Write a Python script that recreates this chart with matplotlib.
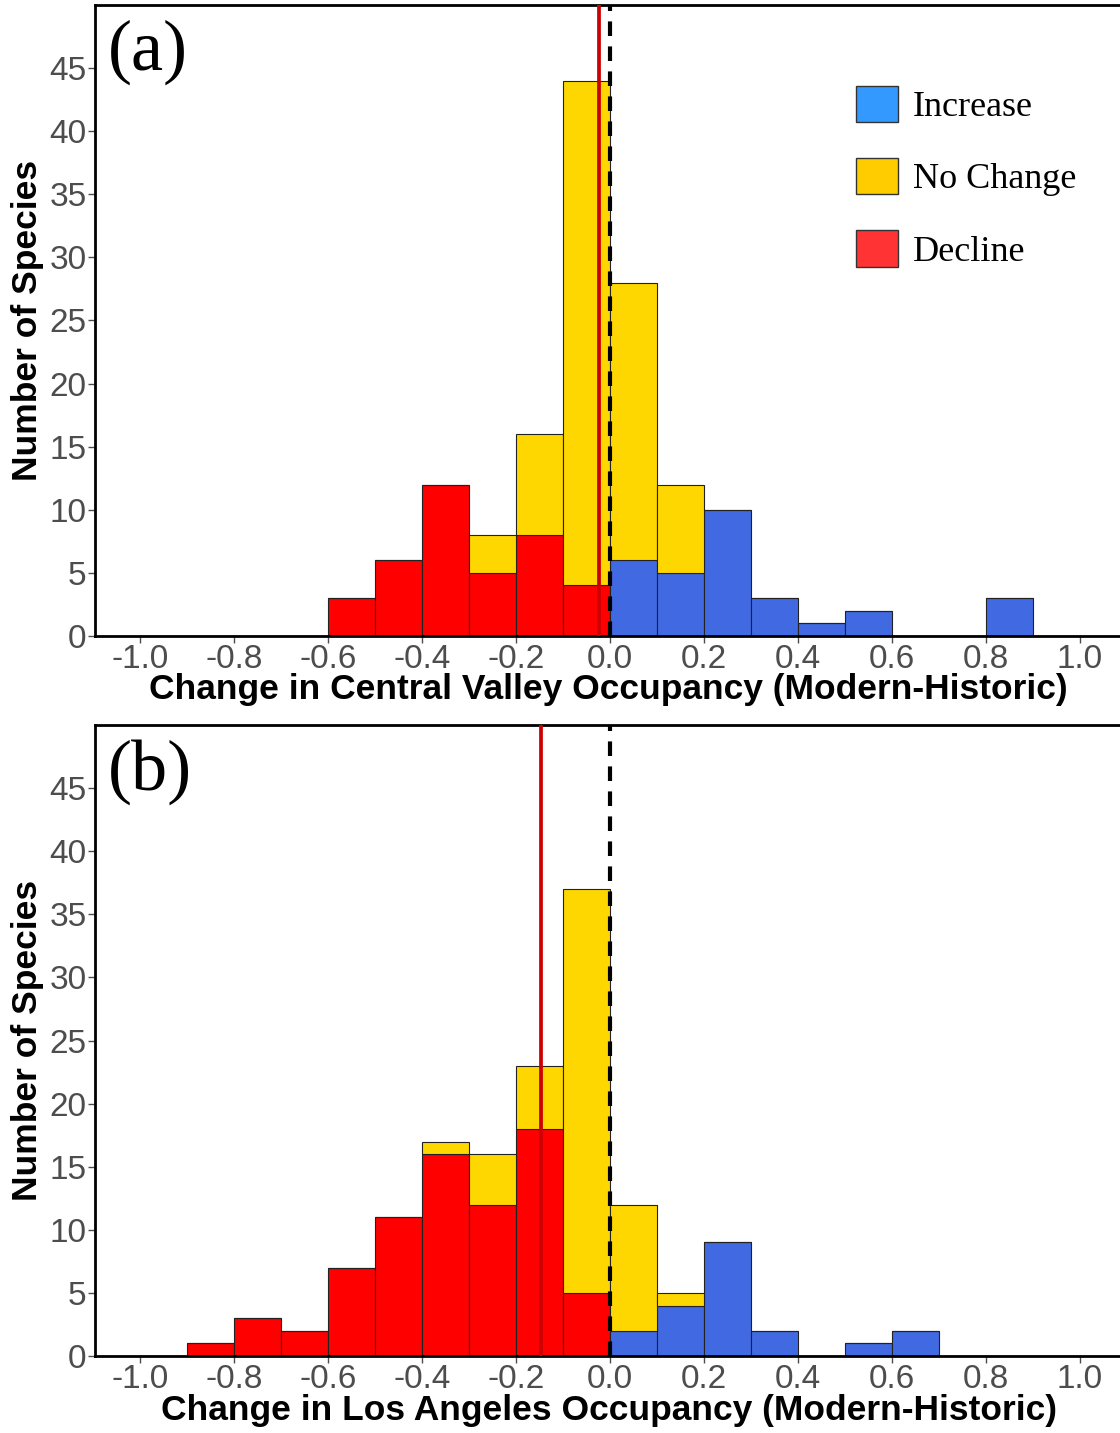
import numpy as np
import matplotlib
matplotlib.use('Agg')
import matplotlib.pyplot as plt
from matplotlib.patches import Patch

# bin edges (width 0.1) from -1.0 to 1.0
bin_left = np.round(np.arange(-1.0, 1.0, 0.1), 1)

# panel (a): Central Valley
cv_decline = [0, 0, 0, 0, 3, 6, 12, 5, 8, 4, 0, 0, 0, 0, 0, 0, 0, 0, 0, 0]
cv_increase = [0, 0, 0, 0, 0, 0, 0, 0, 0, 0, 6, 5, 10, 3, 1, 2, 0, 0, 3, 0]
cv_nochange = [0, 0, 0, 0, 0, 0, 0, 3, 8, 40, 22, 7, 0, 0, 0, 0, 0, 0, 0, 0]
cv_mean = -0.023

# panel (b): Los Angeles
la_decline = [0, 1, 3, 2, 7, 11, 16, 12, 18, 5, 0, 0, 0, 0, 0, 0, 0, 0, 0, 0]
la_increase = [0, 0, 0, 0, 0, 0, 0, 0, 0, 0, 2, 4, 9, 2, 0, 1, 2, 0, 0, 0]
la_nochange = [0, 0, 0, 0, 0, 0, 1, 4, 5, 32, 10, 1, 0, 0, 0, 0, 0, 0, 0, 0]
la_mean = -0.147

xticks = [-1.0, -0.8, -0.6, -0.4, -0.2, 0.0, 0.2, 0.4, 0.6, 0.8, 1.0]
xtick_labels = ['-1.0', '-0.8', '-0.6', '-0.4', '-0.2', '0.0', '0.2', '0.4', '0.6', '0.8', '1.0']
yticks = [0, 5, 10, 15, 20, 25, 30, 35, 40, 45]
xlabels = ['Change in Central Valley Occupancy (Modern-Historic)',
           'Change in Los Angeles Occupancy (Modern-Historic)']
panel_tags = ['(a)', '(b)']

plt.rcParams['font.family'] = ['Liberation Sans', 'DejaVu Sans']

fig = plt.figure(figsize=(11.2, 14.33), dpi=100)
ax1 = fig.add_axes([0.0848, 0.5562, 0.9152, 0.4403])
ax2 = fig.add_axes([0.0848, 0.0537, 0.9152, 0.4403])

panels = [(ax1, cv_decline, cv_increase, cv_nochange, cv_mean),
          (ax2, la_decline, la_increase, la_nochange, la_mean)]

for i, (ax, dec, inc, noc, mean) in enumerate(panels):
    base = np.array(dec) + np.array(inc)
    ax.bar(bin_left, dec, width=0.1, align='edge', color='#FF0000',
           edgecolor='#222222', linewidth=0.8, zorder=2)
    ax.bar(bin_left, inc, width=0.1, align='edge', color='#4169E1',
           edgecolor='#222222', linewidth=0.8, zorder=2)
    ax.bar(bin_left, noc, width=0.1, bottom=base, align='edge', color='#FFD700',
           edgecolor='#222222', linewidth=0.8, zorder=2)
    ax.axvline(mean, color='#CC0000', linewidth=2.7, zorder=3)
    ax.axvline(0.0, color='black', linewidth=3, linestyle=(0, (3.5, 2.5)), zorder=3)

    ax.set_xlim(-1.096, 1.085)
    ax.set_ylim(0, 50)
    ax.set_xticks(xticks)
    ax.set_xticklabels(xtick_labels)
    ax.set_yticks(yticks)
    ax.tick_params(labelsize=24, colors='#4D4D4D', length=5, width=1, pad=1)
    for s in ['left', 'bottom', 'top']:
        ax.spines[s].set_linewidth(2)
        ax.spines[s].set_color('black')
    ax.spines['right'].set_visible(False)

    ax.set_xlabel(xlabels[i], fontsize=25.5, fontweight='bold')
    ax.xaxis.set_label_coords(0.501, -0.0856)
    ax.set_ylabel('Number of Species', fontsize=25.5, fontweight='bold')
    ax.yaxis.set_label_coords(-0.0654, 0.5)
    ax.xaxis.label.set_va('center')
    ax.yaxis.label.set_va('center')
    ax.text(0.0127, 0.977, panel_tags[i], transform=ax.transAxes, fontsize=52,
            family='Liberation Serif', va='top', ha='left')

handles = [Patch(facecolor='#3399FF', edgecolor='#333333', label='Increase'),
           Patch(facecolor='#FFCC00', edgecolor='#333333', label='No Change'),
           Patch(facecolor='#FF3333', edgecolor='#333333', label='Decline')]
ax1.legend(handles=handles, loc='upper left', bbox_to_anchor=(0.7424, 0.872),
           frameon=False, prop={'family': 'Liberation Serif', 'size': 26},
           handlelength=1.17, handleheight=1.17, labelspacing=0.94,
           handletextpad=0.4, borderpad=0, borderaxespad=0)

plt.savefig('out.png', dpi=100)
